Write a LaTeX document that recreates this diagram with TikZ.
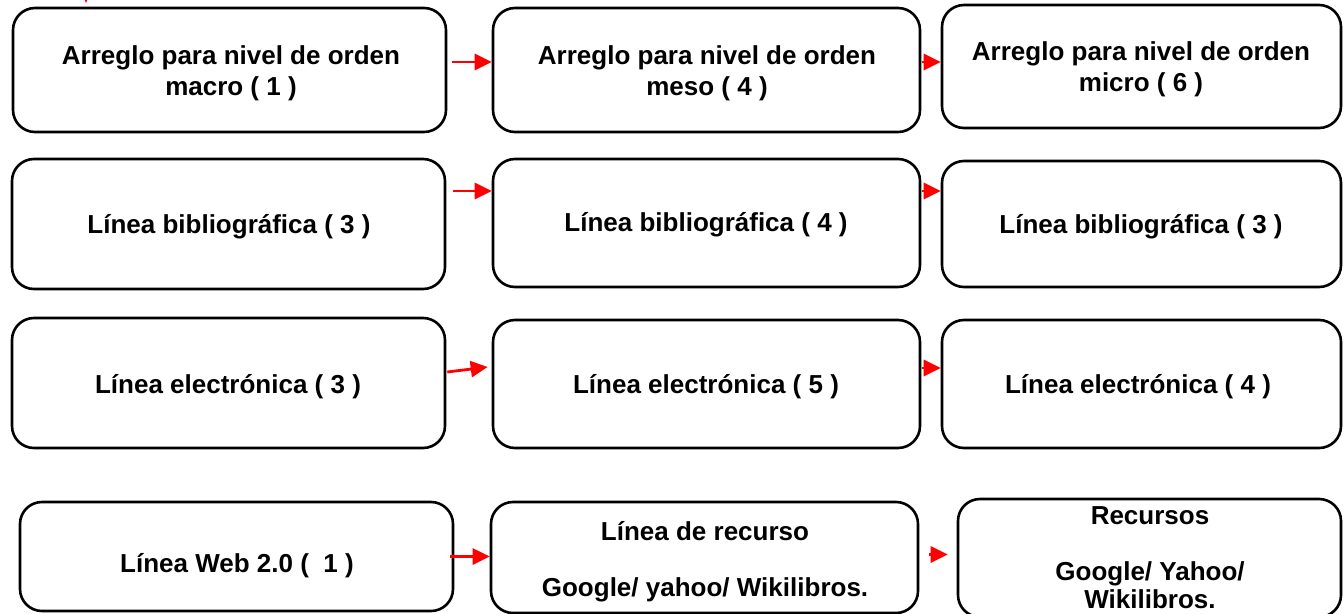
\documentclass[tikz,border=0pt]{standalone}
\usepackage{fontspec}
\setmainfont{Liberation Sans}
\usetikzlibrary{arrows.meta}
\tikzset{
  box/.style={draw=black, line width=2.6pt, rounded corners=22pt, inner sep=0pt},
  txt/.style={align=center, inner sep=0pt, font=\bfseries\fontsize{26}{31}\selectfont},
  txtb/.style={align=center, inner sep=0pt, font=\bfseries\fontsize{26}{28}\selectfont},
  arr/.style={draw=red, line width=2.8pt, -{Triangle[length=17pt,width=16pt]}},
}
\newcommand{\mkbox}[5]{%
  \node[box, minimum width={(#4)-(#2)}, minimum height={(#5)-(#3)}] (#1) at ({((#2)+(#4))/2},{((#3)+(#5))/2}) {};}
\begin{document}
\begin{tikzpicture}[x=1pt,y=-1pt]
\path[use as bounding box] (0,0) rectangle (1343,613);
% boxes
\mkbox{a1}{13}{8}{446}{132}
\mkbox{a2}{493}{8}{920}{132}
\mkbox{a3}{942}{5}{1341}{128}
\mkbox{b1}{12}{159}{445}{289}
\mkbox{b2}{493}{159}{920}{287}
\mkbox{b3}{942}{161}{1341}{287}
\mkbox{c1}{12}{318}{445}{448}
\mkbox{c2}{493}{320}{920}{448}
\mkbox{c3}{942}{320}{1341}{448}
\mkbox{d1}{20}{502}{453}{611}
\mkbox{d2}{491}{502}{918}{613}
\mkbox{d3}{958}{499}{1341}{617}
% texts
\node[txt] (ta1) at (231,73) {Arreglo para nivel de orden\\macro ( 1 )};
\node[txt] (ta2) at (707,73) {Arreglo para nivel de orden\\meso ( 4 )};
\node[txt] (ta3) at (1141,69) {Arreglo para nivel de orden\\micro ( 6 )};
\node[txt] (tb1) at (229,227) {Línea bibliográfica ( 3 )};
\node[txt] (tb2) at (706,225) {Línea bibliográfica ( 4 )};
\node[txt] (tb3) at (1141,227) {Línea bibliográfica ( 3 )};
\node[txt] (tc1) at (228,387) {Línea electrónica ( 3 )};
\node[txt] (tc2) at (706,387) {Línea electrónica ( 5 )};
\node[txt] (tc3) at (1138,387) {Línea electrónica ( 4 )};
\node[txt] (td1) at (237,566) {Línea Web 2.0 (\ \ 1 )};
\node[txtb] (td2) at (705,562) {Línea de recurso\\[28pt]Google/ yahoo/ Wikilibros.};
\node[txtb] (td3) at (1150,558) {Recursos\\[28pt]Google/ Yahoo/\\Wikilibros.};
% arrows
\draw[arr] ([xshift=5pt,yshift=8pt]a1.east) -- ([yshift=8pt]a1.east -| a2.west);
\draw[arr] ([xshift=1pt,yshift=8pt]a2.east) -- ([yshift=8pt]a2.east -| a3.west);
\draw[arr] ([xshift=7pt,yshift=33pt]b1.east) -- ([yshift=33pt]b1.east -| b2.west);
\draw[arr] ([xshift=1pt,yshift=32pt]b2.east) -- ([yshift=32pt]b2.east -| b3.west);
\draw[arr] ([xshift=1pt,yshift=11pt]c1.east) -- ([xshift=-4pt,yshift=17pt]c2.west);
\draw[arr] ([xshift=1pt,yshift=16pt]c2.east) -- ([yshift=16pt]c2.east -| c3.west);
\draw[arr] ([xshift=-4pt]d1.east) -- ([yshift=1pt]d2.west);
\draw[arr] ([xshift=10pt,yshift=3pt]d2.east) -- ([xshift=-9pt,yshift=3pt]d2.east -| d3.west);
% small red tip at top left
\coordinate (t0) at (86,-14);
\coordinate (t1) at (86,3);
\draw[draw=red, line width=1pt, -{Triangle[length=6pt,width=5pt]}] (t0) -- (t1);
\end{tikzpicture}
\end{document}
